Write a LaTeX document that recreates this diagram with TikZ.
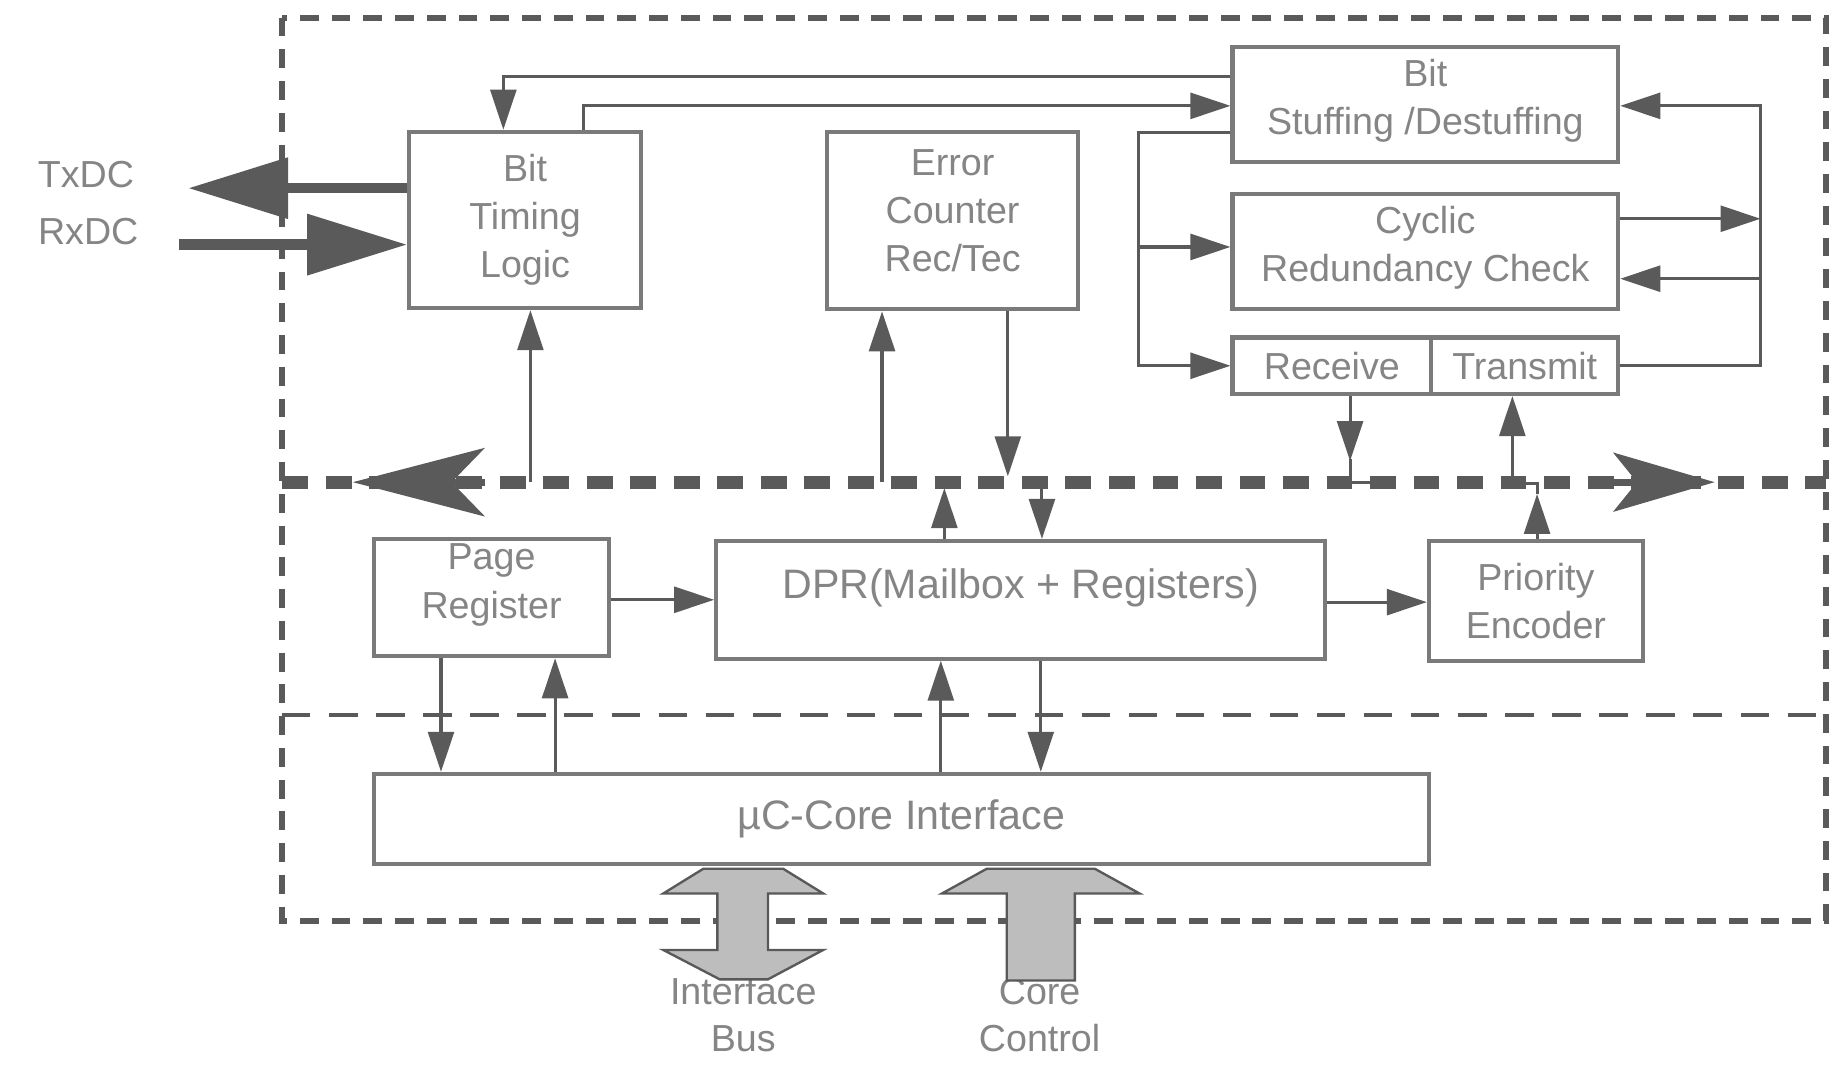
\documentclass[tikz,border=0pt]{standalone}
\usepackage{fontspec}
\setmainfont{Liberation Sans}
\usetikzlibrary{arrows.meta,calc}
\definecolor{boxc}{HTML}{7A7A7A}
\definecolor{linec}{HTML}{5A5A5A}
\definecolor{txtc}{HTML}{858585}
\definecolor{fatfill}{HTML}{BDBDBD}
\begin{document}
\begin{tikzpicture}[x=1pt,y=-1pt,
  blk/.style={draw=boxc,line width=3.5pt,inner sep=0pt,align=center,text=txtc,
    font=\fontsize{32}{41}\selectfont},
  lbl/.style={inner sep=0pt,align=center,text=txtc,font=\fontsize{32}{40}\selectfont},
  conn/.style={draw=linec,line width=2.6pt,-{Triangle[length=34pt,width=22pt]}},
  plain/.style={draw=linec,line width=2.6pt},
  bigarrow/.style={draw=linec,line width=9pt,-{Triangle[length=85pt,width=50pt]}},
  busline/.style={draw=linec,line width=11pt,dash pattern=on 22pt off 15pt},
  bushead/.style={draw=linec,line width=6pt},
  outerline/.style={draw=linec,line width=5pt,dash pattern=on 16pt off 11pt},
  sepline/.style={draw=linec,line width=4pt,dash pattern=on 24pt off 16pt},
  fat/.style={fill=fatfill,draw=black!65,line width=2pt,line join=miter}
]
\useasboundingbox (0,0) rectangle (1568,906);
\fill[white] (0,0) rectangle (1568,906);

% frames
\draw[outerline] (240,15) rectangle (1553,783);
\draw[sepline] (240,608) -- (1553,608);

% blocks
\node[blk,minimum width=197pt,minimum height=150pt] (btl) at (446.5,187) {Bit\\Timing\\Logic};
\node[blk,minimum width=214pt,minimum height=151pt,text depth=17pt] (ec) at (810,187.5) {Error\\Counter\\Rec/Tec};
\node[blk,minimum width=328pt,minimum height=98pt,text depth=13pt] (bsd) at (1212,89) {Bit\\Stuffing /Destuffing};
\node[blk,minimum width=328pt,minimum height=98pt,text depth=13pt] (crc) at (1212,214) {Cyclic\\Redundancy Check};
\node[blk,minimum width=169pt,minimum height=48pt] (rx) at (1132.5,311) {Receive};
\node[blk,minimum width=159pt,minimum height=48pt] (tx) at (1296.5,311) {Transmit};
\node[blk,minimum width=200pt,minimum height=100pt,text depth=28pt] (pr) at (418,508) {Page\\Register};
\node[blk,minimum width=518pt,minimum height=100pt,text depth=27pt,font=\fontsize{35}{41}\selectfont] (dpr) at (868,510) {DPR(Mailbox + Registers)};
\node[blk,minimum width=182pt,minimum height=102pt] (pe) at (1306,511) {Priority\\Encoder};
\node[blk,minimum width=897pt,minimum height=77pt,font=\fontsize{35}{41}\selectfont] (uc) at (766.5,696.5) {µC-Core Interface};

% external labels
\node[lbl] (txl) at (73,148) {TxDC};
\node[lbl] (rxl) at (75,197) {RxDC};
\node[lbl] (ibl) at (632,863) {Interface\\Bus};
\node[lbl] (ccl) at (884,863) {Core\\Control};

% named free ends
\coordinate (txe) at (160,160);
\coordinate (rxs) at (152,208);
\coordinate (busW) at (240,410);
\coordinate (busE) at (1553,410);
\coordinate (busL) at (300,410);
\coordinate (busR) at (1458,410);

% internal bus
\draw[busline] (busW) -- (busE);
\draw[bushead,-{Stealth[length=112pt,width=58pt,inset=28pt]}] (412,410) -- (busL);
\draw[bushead,-{Stealth[length=86pt,width=50pt,inset=20pt]}] (1372,410) -- (busR);

% TxDC / RxDC
\draw[bigarrow] (btl.west |- 0,160) -- (txe);
\draw[bigarrow] (rxs) -- (btl.west |- 0,208);

% top feedback lines
\draw[conn] (bsd.west |- 0,65) -| (btl.north -| 428,0);
\draw[conn] (btl.north -| 496,0) |- (bsd.west |- 0,90);
\draw[conn] (bsd.west |- 0,113) -- (968,113) |- (rx.west);
\draw[conn] (968,210) -- (crc.west |- 0,210);
\draw[conn] (tx.east) -- (1497,311) |- (bsd.east |- 0,90);
\draw[conn] (1497,237) -- (crc.east |- 0,237);
\draw[conn] (crc.east |- 0,186) -- (1497,186);

% to / from bus
\draw[conn] (451,410) -- (btl.south -| 451,0);
\draw[conn] (750,410) -- (ec.south -| 750,0);
\draw[conn] (ec.south -| 857,0) -- (857,405);
\draw[conn] (rx.south -| 1148,0) -- (1148,392);
\draw[plain] (1148,390) -- (1148,410) -- (1172,410);
\draw[conn] (pe.north -| 1307,0) -- (1307,420);
\draw[plain] (1307,420) -- (1307,411) -- (1286,411);
\draw[conn] (1286,411) -- (tx.south -| 1286,0);
\draw[conn] (dpr.north -| 803,0) -- (803,415);
\draw[conn] (886,412) -- (dpr.north -| 886,0);

% middle row
\draw[conn] (pr.east |- 0,510) -- (dpr.west |- 0,510);
\draw[conn] (dpr.east |- 0,512) -- (pe.west |- 0,512);
\draw[conn] (pr.south -| 375,0) -- (uc.north -| 375,0);
\draw[conn] (uc.north -| 472,0) -- (pr.south -| 472,0);
\draw[conn] (uc.north -| 800,0) -- (dpr.south -| 800,0);
\draw[conn] (dpr.south -| 885,0) -- (uc.north -| 885,0);

% fat arrows under the core interface
\coordinate (ibt) at (uc.south -| 632,0);
\coordinate (cct) at (uc.south -| 885,0);
\filldraw[fat,shift={(ibt)}] (-34,2) -- (34,2) -- (68,23) -- (21,23) -- (21,71) -- (68,71)
  -- (21,96) -- (-20,96) -- (-68,71) -- (-22,71) -- (-22,23) -- (-68,23) -- cycle;
\filldraw[fat,shift={(cct)}] (-46,2) -- (46,2) -- (84,23) -- (29,23) -- (29,97)
  -- (-29,97) -- (-29,23) -- (-84,23) -- cycle;
\end{tikzpicture}
\end{document}
